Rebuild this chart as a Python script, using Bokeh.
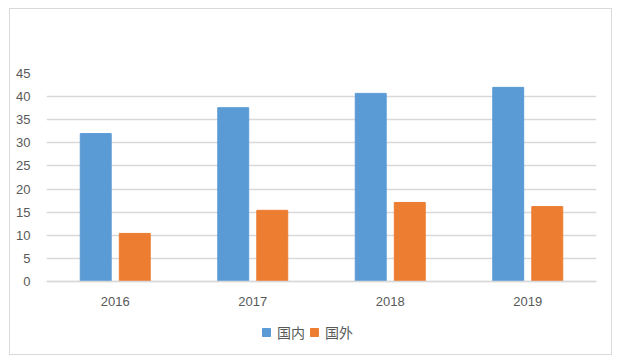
from bokeh.plotting import figure
from bokeh.models import ColumnDataSource, FixedTicker, Legend, LegendItem
from bokeh.transform import dodge
from bokeh.embed import file_html
from bokeh.resources import INLINE

years = ["2016", "2017", "2018", "2019"]
domestic = [32.0, 37.6, 40.7, 42.0]
foreign = [10.4, 15.4, 17.1, 16.2]
series_names = ["国内", "国外"]
y_ticks = [0, 5, 10, 15, 20, 25, 30, 35, 40, 45]

# layout (canvas px)
frame_top = 64
frame_bottom_extra = 70   # px of frame below value 0 (room for x labels + legend)
value_px = 208            # px from 0 to 45
y_max = 45
y_min = -y_max * frame_bottom_extra / value_px

src = ColumnDataSource(data=dict(year=years, domestic=domestic, foreign=foreign))

p = figure(x_range=years, y_range=(y_min, y_max), width=603, height=347,
           output_backend="svg", toolbar_location=None,
           min_border_left=36, min_border_right=17, min_border_top=frame_top,
           min_border_bottom=347 - frame_top - value_px - frame_bottom_extra)
p.styles = {"border": "1px solid #d9d9d9"}
p.margin = (8, 0, 0, 9)

b1 = p.vbar(x=dodge("year", -0.142, range=p.x_range), top="domestic", width=0.225,
            source=src, color="#5b9bd5")
b2 = p.vbar(x=dodge("year", 0.142, range=p.x_range), top="foreign", width=0.225,
            source=src, color="#ed7d31")

p.outline_line_color = None
p.xgrid.grid_line_color = None
p.ygrid.grid_line_color = "#d9d9d9"
p.ygrid.grid_line_width = 1.5
p.yaxis.ticker = FixedTicker(ticks=y_ticks)
p.yaxis.axis_line_color = None
p.yaxis.major_tick_line_color = None
p.yaxis.minor_tick_line_color = None
p.xaxis.fixed_location = 0
p.xaxis.axis_line_color = "#d9d9d9"
p.xaxis.axis_line_width = 1.5
p.xaxis.major_tick_line_color = None
p.xaxis.minor_tick_line_color = None
p.x_range.range_padding = 0
for ax in (p.xaxis, p.yaxis):
    ax.major_label_text_color = "#595959"
    ax.major_label_text_font = "Liberation Sans"
    ax.major_label_text_font_size = "13px"
p.yaxis.major_label_standoff = 10
p.xaxis.major_label_standoff = 9

legend = Legend(items=[LegendItem(label=series_names[0], renderers=[b1]),
                       LegendItem(label=series_names[1], renderers=[b2])],
                orientation="horizontal", location=(215, 9),
                label_text_font="Noto Sans CJK SC", label_text_font_size="14px",
                label_text_color="#595959", glyph_width=10, glyph_height=10,
                spacing=4, label_standoff=6, border_line_color=None,
                background_fill_alpha=0, margin=0, padding=6)
p.add_layout(legend, "center")

open("out.html", "w").write(file_html(p, INLINE))
